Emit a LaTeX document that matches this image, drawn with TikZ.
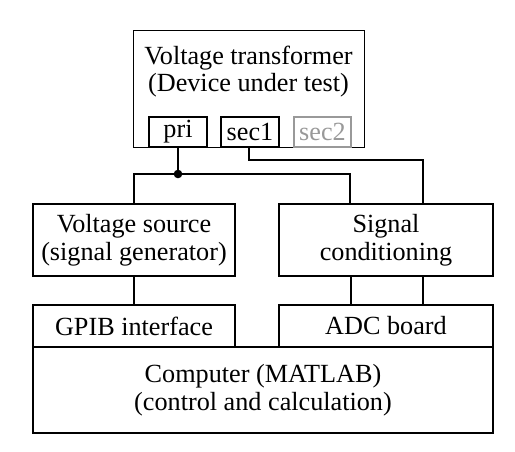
\documentclass[tikz,border=0pt]{standalone}
\usepackage{fontspec}
\setmainfont{Liberation Serif}
\begin{document}
\begin{tikzpicture}[x=1pt,y=-1pt,
  box/.style={draw,line width=1.6pt,inner sep=0pt,align=center},
  wire/.style={line width=1.6pt},
  txt/.style={inner sep=0pt,align=center,font=\fontsize{26.2}{28}\selectfont}]
\useasboundingbox (0,0) rectangle (515,452);
% transformer
\node[draw,line width=0.9pt,inner sep=0pt,minimum width=231pt,minimum height=117pt] (xf) at (248.5,88.5) {};
\node[txt,anchor=base] (xft1) at (248.5,65) {Voltage transformer};
\node[txt,anchor=base] (xft2) at (248.5,92) {(Device under test)};
\node[box,txt,draw,line width=1.6pt,minimum width=58pt,minimum height=30pt] (pri) at (178,132) {pri};
\node[box,txt,draw,line width=1.6pt,minimum width=58pt,minimum height=30pt] (sec1) at (250,132) {sec1};
\node[box,txt,draw=black!40,text=black!40,line width=1.6pt,minimum width=57pt,minimum height=30pt] (sec2) at (322.5,132) {sec2};
% middle boxes
\node[box,txt,draw,line width=1.6pt,minimum width=202pt,minimum height=72pt] (vs) at (134,240) {Voltage source\\(signal generator)};
\node[box,txt,draw,line width=1.6pt,minimum width=214pt,minimum height=72pt] (sc) at (386,240) {Signal\\conditioning};
\node[box,txt,draw,line width=1.6pt,minimum width=202pt,minimum height=42pt] (gpib) at (134,326) {GPIB interface};
\node[box,txt,draw,line width=1.6pt,minimum width=214pt,minimum height=42pt] (adc) at (386,326) {ADC board};
\node[box,txt,draw,line width=1.6pt,minimum width=460pt,minimum height=86pt] (pc) at (263,390) {Computer (MATLAB)\\(control and calculation)};
% wires
\coordinate (j) at (178,174);
\coordinate (s1) at (249,160);
\draw[wire] (pri.south) -- (j);
\fill (j) circle (4.3pt);
\draw[wire] (vs.north) -- (134,174) -- (350,174) -- (350,204);
\draw[wire] (249,147) -- (s1) -- (423,160) -- (423,204);
\draw[wire] (vs.south) -- (gpib.north);
\draw[wire] (351,276) -- (351,305);
\draw[wire] (423,276) -- (423,305);
\end{tikzpicture}
\end{document}
